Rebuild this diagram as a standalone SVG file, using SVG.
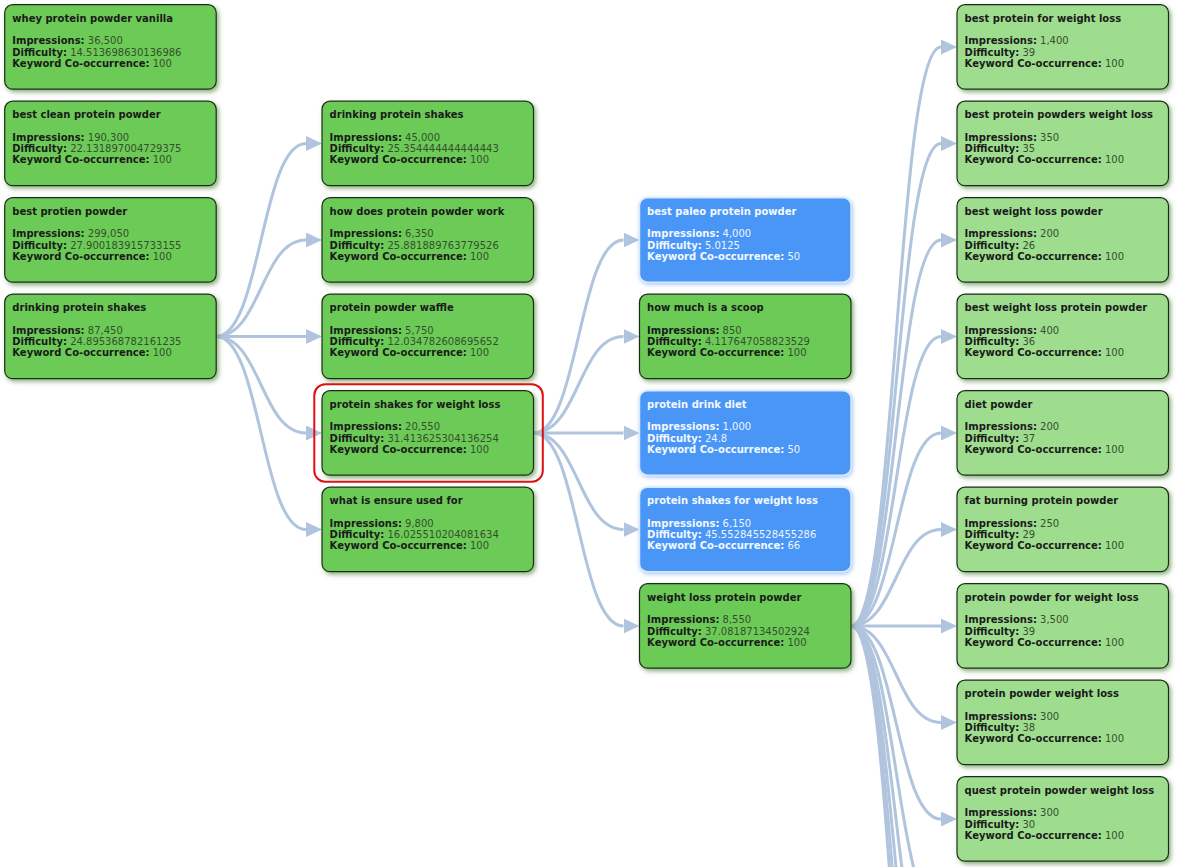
<svg xmlns="http://www.w3.org/2000/svg" width="1200" height="867" viewBox="0 0 1200 867">
<style>
  .bg{fill:#ffffff}
  .link{fill:none;stroke:#b0c4de;stroke-width:3}
  .node rect.box{stroke:#1e2a1a;stroke-width:1.2}
  .g1 rect.box{fill:#6ccb57;filter:url(#shG)}
  .g2 rect.box{fill:#9edd8e;filter:url(#shG)}
  .b rect.box{fill:#4a96f6;stroke:#d8e8ff;stroke-width:1.5;filter:url(#shB)}
  text{font-family:"DejaVu Sans","Verdana","Liberation Sans",sans-serif;font-size:10px}
  .t{font-weight:bold;fill:#1a1a1a}
  .l{font-weight:bold;fill:#1a1a1a}
  .v{font-weight:normal;fill:#354f2e}
  .b .t,.b .l{fill:#f4f8ff}
  .b .v{fill:#eef4ff}
  .sel{fill:none;stroke:#e01010;stroke-width:2}
</style>
<defs>
  <filter id="shG" x="-10%" y="-10%" width="125%" height="130%">
    <feDropShadow dx="2" dy="2.5" stdDeviation="2.2" flood-color="#4f8a3c" flood-opacity="0.65"/>
  </filter>
  <filter id="shB" x="-10%" y="-10%" width="125%" height="130%">
    <feDropShadow dx="1" dy="1.5" stdDeviation="2" flood-color="#8fb8f0" flood-opacity="0.8"/>
  </filter>
  <marker id="arr" markerWidth="16" markerHeight="15" refX="0" refY="7.5" orient="auto" markerUnits="userSpaceOnUse">
    <path d="M0,0 L16,7.5 L0,15 z" fill="#b0c4de"/>
  </marker>
</defs>
<rect class="bg" x="0" y="0" width="1200" height="867"/>

<g id="connectors">
  <path class="link" marker-end="url(#arr)" d="M216,336.5 C261,336.5 261,143.5 306,143.5"/>
  <path class="link" marker-end="url(#arr)" d="M216,336.5 C261,336.5 261,240 306,240"/>
  <path class="link" marker-end="url(#arr)" d="M216,336.5 C261,336.5 261,336.5 306,336.5"/>
  <path class="link" marker-end="url(#arr)" d="M216,336.5 C261,336.5 261,433 306,433"/>
  <path class="link" marker-end="url(#arr)" d="M216,336.5 C261,336.5 261,529.5 306,529.5"/>

  <path class="link" marker-end="url(#arr)" d="M533.5,433 C578.5,433 578.5,240 623.5,240"/>
  <path class="link" marker-end="url(#arr)" d="M533.5,433 C578.5,433 578.5,336.5 623.5,336.5"/>
  <path class="link" marker-end="url(#arr)" d="M533.5,433 C578.5,433 578.5,433 623.5,433"/>
  <path class="link" marker-end="url(#arr)" d="M533.5,433 C578.5,433 578.5,529.5 623.5,529.5"/>
  <path class="link" marker-end="url(#arr)" d="M533.5,433 C578.5,433 578.5,626 623.5,626"/>

  <path class="link" marker-end="url(#arr)" d="M851,626 C896,626 896,47 941,47"/>
  <path class="link" marker-end="url(#arr)" d="M851,626 C896,626 896,143.5 941,143.5"/>
  <path class="link" marker-end="url(#arr)" d="M851,626 C896,626 896,240 941,240"/>
  <path class="link" marker-end="url(#arr)" d="M851,626 C896,626 896,336.5 941,336.5"/>
  <path class="link" marker-end="url(#arr)" d="M851,626 C896,626 896,433 941,433"/>
  <path class="link" marker-end="url(#arr)" d="M851,626 C896,626 896,529.5 941,529.5"/>
  <path class="link" marker-end="url(#arr)" d="M851,626 C896,626 896,626 941,626"/>
  <path class="link" marker-end="url(#arr)" d="M851,626 C896,626 896,722.5 941,722.5"/>
  <path class="link" marker-end="url(#arr)" d="M851,626 C896,626 896,819 941,819"/>
  <path class="link" marker-end="url(#arr)" d="M851,626 C896,626 896,915.5 941,915.5"/>
  <path class="link" marker-end="url(#arr)" d="M851,626 C896,626 896,1012 941,1012"/>
  <path class="link" marker-end="url(#arr)" d="M851,626 C896,626 896,1108.5 941,1108.5"/>
  <path class="link" marker-end="url(#arr)" d="M851,626 C896,626 896,1205 941,1205"/>
  <path class="link" marker-end="url(#arr)" d="M851,626 C896,626 896,1301.5 941,1301.5"/>
</g>

<!-- Column 1 -->
<g id="n-whey-protein-powder-vanilla" class="node g1" transform="translate(4.7,4.7)">
  <rect class="box" width="211.5" height="84.5" rx="8"/>
  <text class="t" x="7.6" y="17.3">whey protein powder vanilla</text>
  <text x="7.6" y="39.6"><tspan class="l">Impressions:</tspan><tspan class="v"> 36,500</tspan></text>
  <text x="7.6" y="50.9"><tspan class="l">Difficulty:</tspan><tspan class="v"> 14.513698630136986</tspan></text>
  <text x="7.6" y="62.2"><tspan class="l">Keyword Co-occurrence:</tspan><tspan class="v"> 100</tspan></text>
</g>
<g id="n-best-clean-protein-powder" class="node g1" transform="translate(4.7,101.2)">
  <rect class="box" width="211.5" height="84.5" rx="8"/>
  <text class="t" x="7.6" y="17.3">best clean protein powder</text>
  <text x="7.6" y="39.6"><tspan class="l">Impressions:</tspan><tspan class="v"> 190,300</tspan></text>
  <text x="7.6" y="50.9"><tspan class="l">Difficulty:</tspan><tspan class="v"> 22.131897004729375</tspan></text>
  <text x="7.6" y="62.2"><tspan class="l">Keyword Co-occurrence:</tspan><tspan class="v"> 100</tspan></text>
</g>
<g id="n-best-protien-powder" class="node g1" transform="translate(4.7,197.7)">
  <rect class="box" width="211.5" height="84.5" rx="8"/>
  <text class="t" x="7.6" y="17.3">best protien powder</text>
  <text x="7.6" y="39.6"><tspan class="l">Impressions:</tspan><tspan class="v"> 299,050</tspan></text>
  <text x="7.6" y="50.9"><tspan class="l">Difficulty:</tspan><tspan class="v"> 27.900183915733155</tspan></text>
  <text x="7.6" y="62.2"><tspan class="l">Keyword Co-occurrence:</tspan><tspan class="v"> 100</tspan></text>
</g>
<g id="n-drinking-protein-shakes-1" class="node g1" transform="translate(4.7,294.2)">
  <rect class="box" width="211.5" height="84.5" rx="8"/>
  <text class="t" x="7.6" y="17.3">drinking protein shakes</text>
  <text x="7.6" y="39.6"><tspan class="l">Impressions:</tspan><tspan class="v"> 87,450</tspan></text>
  <text x="7.6" y="50.9"><tspan class="l">Difficulty:</tspan><tspan class="v"> 24.895368782161235</tspan></text>
  <text x="7.6" y="62.2"><tspan class="l">Keyword Co-occurrence:</tspan><tspan class="v"> 100</tspan></text>
</g>

<!-- Column 2 -->
<g id="n-drinking-protein-shakes-2" class="node g1" transform="translate(322,101.2)">
  <rect class="box" width="211.5" height="84.5" rx="8"/>
  <text class="t" x="7.6" y="17.3">drinking protein shakes</text>
  <text x="7.6" y="39.6"><tspan class="l">Impressions:</tspan><tspan class="v"> 45,000</tspan></text>
  <text x="7.6" y="50.9"><tspan class="l">Difficulty:</tspan><tspan class="v"> 25.354444444444443</tspan></text>
  <text x="7.6" y="62.2"><tspan class="l">Keyword Co-occurrence:</tspan><tspan class="v"> 100</tspan></text>
</g>
<g id="n-how-does-protein-powder-work" class="node g1" transform="translate(322,197.7)">
  <rect class="box" width="211.5" height="84.5" rx="8"/>
  <text class="t" x="7.6" y="17.3">how does protein powder work</text>
  <text x="7.6" y="39.6"><tspan class="l">Impressions:</tspan><tspan class="v"> 6,350</tspan></text>
  <text x="7.6" y="50.9"><tspan class="l">Difficulty:</tspan><tspan class="v"> 25.881889763779526</tspan></text>
  <text x="7.6" y="62.2"><tspan class="l">Keyword Co-occurrence:</tspan><tspan class="v"> 100</tspan></text>
</g>
<g id="n-protein-powder-waffle" class="node g1" transform="translate(322,294.2)">
  <rect class="box" width="211.5" height="84.5" rx="8"/>
  <text class="t" x="7.6" y="17.3">protein powder waffle</text>
  <text x="7.6" y="39.6"><tspan class="l">Impressions:</tspan><tspan class="v"> 5,750</tspan></text>
  <text x="7.6" y="50.9"><tspan class="l">Difficulty:</tspan><tspan class="v"> 12.034782608695652</tspan></text>
  <text x="7.6" y="62.2"><tspan class="l">Keyword Co-occurrence:</tspan><tspan class="v"> 100</tspan></text>
</g>
<g id="n-protein-shakes-for-weight-loss-1" class="node g1" transform="translate(322,390.7)">
  <rect class="sel" x="-7.7" y="-6.5" width="228.5" height="97.5" rx="11"/>
  <rect class="box" width="211.5" height="84.5" rx="8"/>
  <text class="t" x="7.6" y="17.3">protein shakes for weight loss</text>
  <text x="7.6" y="39.6"><tspan class="l">Impressions:</tspan><tspan class="v"> 20,550</tspan></text>
  <text x="7.6" y="50.9"><tspan class="l">Difficulty:</tspan><tspan class="v"> 31.413625304136254</tspan></text>
  <text x="7.6" y="62.2"><tspan class="l">Keyword Co-occurrence:</tspan><tspan class="v"> 100</tspan></text>
</g>
<g id="n-what-is-ensure-used-for" class="node g1" transform="translate(322,487.2)">
  <rect class="box" width="211.5" height="84.5" rx="8"/>
  <text class="t" x="7.6" y="17.3">what is ensure used for</text>
  <text x="7.6" y="39.6"><tspan class="l">Impressions:</tspan><tspan class="v"> 9,800</tspan></text>
  <text x="7.6" y="50.9"><tspan class="l">Difficulty:</tspan><tspan class="v"> 16.025510204081634</tspan></text>
  <text x="7.6" y="62.2"><tspan class="l">Keyword Co-occurrence:</tspan><tspan class="v"> 100</tspan></text>
</g>

<!-- Column 3 -->
<g id="n-best-paleo-protein-powder" class="node b" transform="translate(639.5,197.7)">
  <rect class="box" width="211.5" height="84.5" rx="8"/>
  <text class="t" x="7.6" y="17.3">best paleo protein powder</text>
  <text x="7.6" y="39.6"><tspan class="l">Impressions:</tspan><tspan class="v"> 4,000</tspan></text>
  <text x="7.6" y="50.9"><tspan class="l">Difficulty:</tspan><tspan class="v"> 5.0125</tspan></text>
  <text x="7.6" y="62.2"><tspan class="l">Keyword Co-occurrence:</tspan><tspan class="v"> 50</tspan></text>
</g>
<g id="n-how-much-is-a-scoop" class="node g1" transform="translate(639.5,294.2)">
  <rect class="box" width="211.5" height="84.5" rx="8"/>
  <text class="t" x="7.6" y="17.3">how much is a scoop</text>
  <text x="7.6" y="39.6"><tspan class="l">Impressions:</tspan><tspan class="v"> 850</tspan></text>
  <text x="7.6" y="50.9"><tspan class="l">Difficulty:</tspan><tspan class="v"> 4.117647058823529</tspan></text>
  <text x="7.6" y="62.2"><tspan class="l">Keyword Co-occurrence:</tspan><tspan class="v"> 100</tspan></text>
</g>
<g id="n-protein-drink-diet" class="node b" transform="translate(639.5,390.7)">
  <rect class="box" width="211.5" height="84.5" rx="8"/>
  <text class="t" x="7.6" y="17.3">protein drink diet</text>
  <text x="7.6" y="39.6"><tspan class="l">Impressions:</tspan><tspan class="v"> 1,000</tspan></text>
  <text x="7.6" y="50.9"><tspan class="l">Difficulty:</tspan><tspan class="v"> 24.8</tspan></text>
  <text x="7.6" y="62.2"><tspan class="l">Keyword Co-occurrence:</tspan><tspan class="v"> 50</tspan></text>
</g>
<g id="n-protein-shakes-for-weight-loss-2" class="node b" transform="translate(639.5,487.2)">
  <rect class="box" width="211.5" height="84.5" rx="8"/>
  <text class="t" x="7.6" y="17.3">protein shakes for weight loss</text>
  <text x="7.6" y="39.6"><tspan class="l">Impressions:</tspan><tspan class="v"> 6,150</tspan></text>
  <text x="7.6" y="50.9"><tspan class="l">Difficulty:</tspan><tspan class="v"> 45.552845528455286</tspan></text>
  <text x="7.6" y="62.2"><tspan class="l">Keyword Co-occurrence:</tspan><tspan class="v"> 66</tspan></text>
</g>
<g id="n-weight-loss-protein-powder" class="node g1" transform="translate(639.5,583.7)">
  <rect class="box" width="211.5" height="84.5" rx="8"/>
  <text class="t" x="7.6" y="17.3">weight loss protein powder</text>
  <text x="7.6" y="39.6"><tspan class="l">Impressions:</tspan><tspan class="v"> 8,550</tspan></text>
  <text x="7.6" y="50.9"><tspan class="l">Difficulty:</tspan><tspan class="v"> 37.08187134502924</tspan></text>
  <text x="7.6" y="62.2"><tspan class="l">Keyword Co-occurrence:</tspan><tspan class="v"> 100</tspan></text>
</g>

<!-- Column 4 -->
<g id="n-best-protein-for-weight-loss" class="node g2" transform="translate(957,4.7)">
  <rect class="box" width="211.5" height="84.5" rx="8"/>
  <text class="t" x="7.6" y="17.3">best protein for weight loss</text>
  <text x="7.6" y="39.6"><tspan class="l">Impressions:</tspan><tspan class="v"> 1,400</tspan></text>
  <text x="7.6" y="50.9"><tspan class="l">Difficulty:</tspan><tspan class="v"> 39</tspan></text>
  <text x="7.6" y="62.2"><tspan class="l">Keyword Co-occurrence:</tspan><tspan class="v"> 100</tspan></text>
</g>
<g id="n-best-protein-powders-weight-loss" class="node g2" transform="translate(957,101.2)">
  <rect class="box" width="211.5" height="84.5" rx="8"/>
  <text class="t" x="7.6" y="17.3">best protein powders weight loss</text>
  <text x="7.6" y="39.6"><tspan class="l">Impressions:</tspan><tspan class="v"> 350</tspan></text>
  <text x="7.6" y="50.9"><tspan class="l">Difficulty:</tspan><tspan class="v"> 35</tspan></text>
  <text x="7.6" y="62.2"><tspan class="l">Keyword Co-occurrence:</tspan><tspan class="v"> 100</tspan></text>
</g>
<g id="n-best-weight-loss-powder" class="node g2" transform="translate(957,197.7)">
  <rect class="box" width="211.5" height="84.5" rx="8"/>
  <text class="t" x="7.6" y="17.3">best weight loss powder</text>
  <text x="7.6" y="39.6"><tspan class="l">Impressions:</tspan><tspan class="v"> 200</tspan></text>
  <text x="7.6" y="50.9"><tspan class="l">Difficulty:</tspan><tspan class="v"> 26</tspan></text>
  <text x="7.6" y="62.2"><tspan class="l">Keyword Co-occurrence:</tspan><tspan class="v"> 100</tspan></text>
</g>
<g id="n-best-weight-loss-protein-powder" class="node g2" transform="translate(957,294.2)">
  <rect class="box" width="211.5" height="84.5" rx="8"/>
  <text class="t" x="7.6" y="17.3">best weight loss protein powder</text>
  <text x="7.6" y="39.6"><tspan class="l">Impressions:</tspan><tspan class="v"> 400</tspan></text>
  <text x="7.6" y="50.9"><tspan class="l">Difficulty:</tspan><tspan class="v"> 36</tspan></text>
  <text x="7.6" y="62.2"><tspan class="l">Keyword Co-occurrence:</tspan><tspan class="v"> 100</tspan></text>
</g>
<g id="n-diet-powder" class="node g2" transform="translate(957,390.7)">
  <rect class="box" width="211.5" height="84.5" rx="8"/>
  <text class="t" x="7.6" y="17.3">diet powder</text>
  <text x="7.6" y="39.6"><tspan class="l">Impressions:</tspan><tspan class="v"> 200</tspan></text>
  <text x="7.6" y="50.9"><tspan class="l">Difficulty:</tspan><tspan class="v"> 37</tspan></text>
  <text x="7.6" y="62.2"><tspan class="l">Keyword Co-occurrence:</tspan><tspan class="v"> 100</tspan></text>
</g>
<g id="n-fat-burning-protein-powder" class="node g2" transform="translate(957,487.2)">
  <rect class="box" width="211.5" height="84.5" rx="8"/>
  <text class="t" x="7.6" y="17.3">fat burning protein powder</text>
  <text x="7.6" y="39.6"><tspan class="l">Impressions:</tspan><tspan class="v"> 250</tspan></text>
  <text x="7.6" y="50.9"><tspan class="l">Difficulty:</tspan><tspan class="v"> 29</tspan></text>
  <text x="7.6" y="62.2"><tspan class="l">Keyword Co-occurrence:</tspan><tspan class="v"> 100</tspan></text>
</g>
<g id="n-protein-powder-for-weight-loss" class="node g2" transform="translate(957,583.7)">
  <rect class="box" width="211.5" height="84.5" rx="8"/>
  <text class="t" x="7.6" y="17.3">protein powder for weight loss</text>
  <text x="7.6" y="39.6"><tspan class="l">Impressions:</tspan><tspan class="v"> 3,500</tspan></text>
  <text x="7.6" y="50.9"><tspan class="l">Difficulty:</tspan><tspan class="v"> 39</tspan></text>
  <text x="7.6" y="62.2"><tspan class="l">Keyword Co-occurrence:</tspan><tspan class="v"> 100</tspan></text>
</g>
<g id="n-protein-powder-weight-loss" class="node g2" transform="translate(957,680.2)">
  <rect class="box" width="211.5" height="84.5" rx="8"/>
  <text class="t" x="7.6" y="17.3">protein powder weight loss</text>
  <text x="7.6" y="39.6"><tspan class="l">Impressions:</tspan><tspan class="v"> 300</tspan></text>
  <text x="7.6" y="50.9"><tspan class="l">Difficulty:</tspan><tspan class="v"> 38</tspan></text>
  <text x="7.6" y="62.2"><tspan class="l">Keyword Co-occurrence:</tspan><tspan class="v"> 100</tspan></text>
</g>
<g id="n-quest-protein-powder-weight-loss" class="node g2" transform="translate(957,776.7)">
  <rect class="box" width="211.5" height="84.5" rx="8"/>
  <text class="t" x="7.6" y="17.3">quest protein powder weight loss</text>
  <text x="7.6" y="39.6"><tspan class="l">Impressions:</tspan><tspan class="v"> 300</tspan></text>
  <text x="7.6" y="50.9"><tspan class="l">Difficulty:</tspan><tspan class="v"> 30</tspan></text>
  <text x="7.6" y="62.2"><tspan class="l">Keyword Co-occurrence:</tspan><tspan class="v"> 100</tspan></text>
</g>
</svg>
